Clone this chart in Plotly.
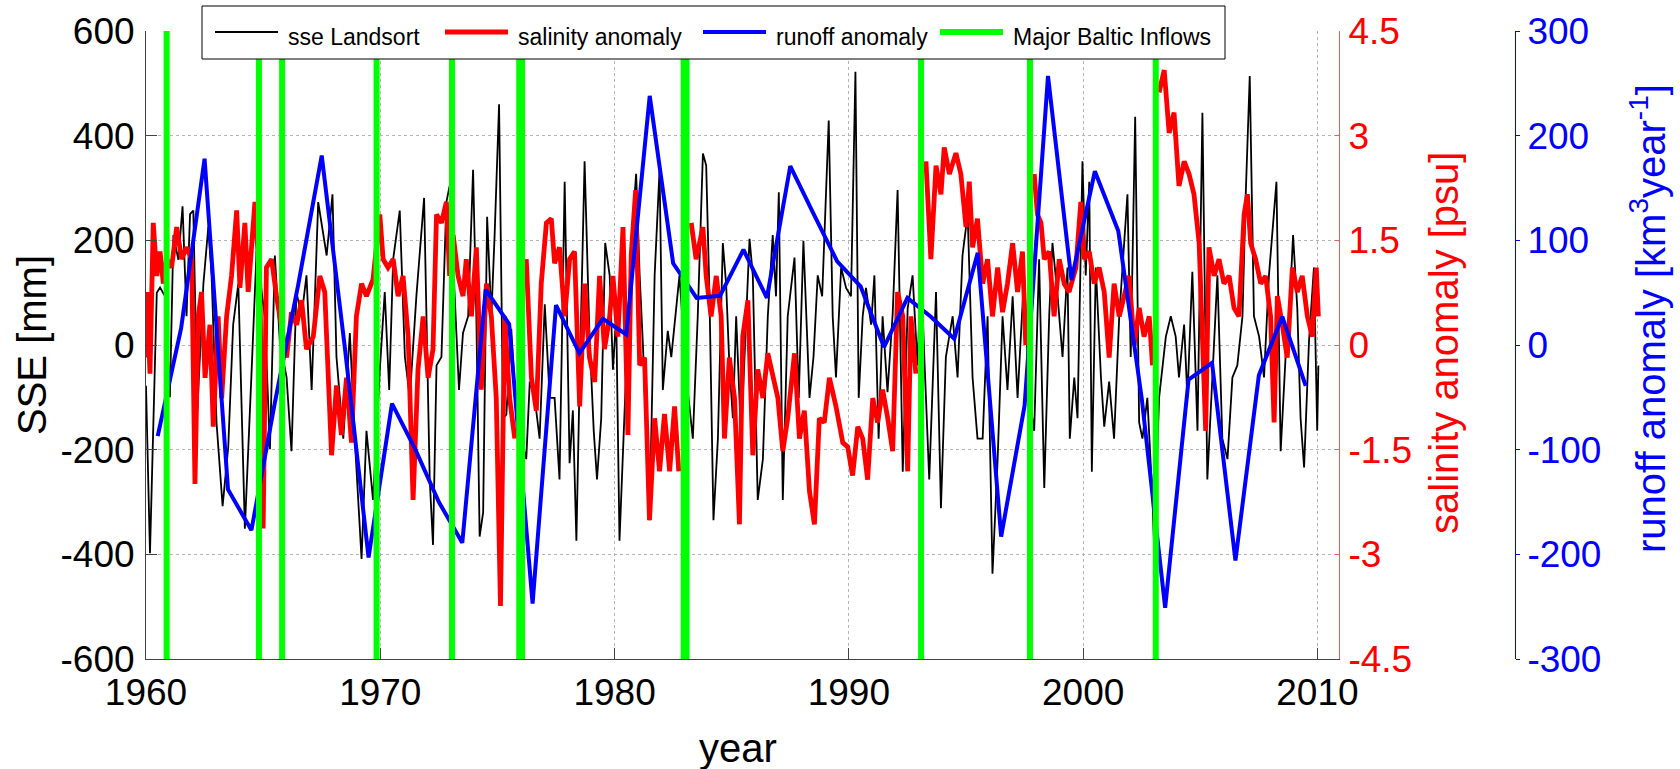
import plotly.graph_objects as go

# ---------------- data ----------------
# sea surface elevation at Landsort [mm]
sse_t_a = [1960.00, 1960.17, 1960.46, 1960.60, 1960.81, 1961.02, 1961.17, 1961.38, 1961.56, 1961.73,
           1961.88, 1962.02, 1962.19, 1962.45, 1962.66, 1962.80, 1963.01, 1963.27, 1963.51, 1963.72,
           1963.94, 1964.22, 1964.51, 1964.72, 1965.07, 1965.29, 1965.50, 1965.71, 1966.00, 1966.21,
           1966.42, 1966.64, 1966.85, 1967.07, 1967.35, 1967.71, 1967.96, 1968.13, 1968.42, 1968.70,
           1968.96, 1969.20, 1969.41, 1969.69, 1969.98, 1970.19, 1970.38, 1970.55, 1970.83, 1971.05,
           1971.26, 1971.54, 1971.87, 1972.11, 1972.25, 1972.40, 1972.61, 1972.82, 1972.96]
sse_v_a = [-78, -398, 100, 110, 93, -100, 210, 163, 265, 55,
           250, 257, -125, 117, 226, 133, -148, -308, -195, 39,
           117, -351, -47, 179, 54, -199, 171, 8, -62, -203,
           101, 55, 133, -86, 273, 171, 288, -23, -179, 23,
           -218, -409, -164, -296, -47, 101, -86, 164, 257, -23,
           -101, 93, 281, -257, -382, -39, -23, 273, 304]
sse_t_b = [1973.36, 1973.53, 1973.75, 1973.96, 1974.10, 1974.24, 1974.39, 1974.56, 1974.74, 1974.88,
           1975.07, 1975.24, 1975.38, 1975.59, 1975.81, 1976.23, 1976.38, 1976.59, 1976.80, 1977.02,
           1977.23, 1977.44, 1977.65, 1977.87, 1978.08, 1978.22, 1978.37, 1978.51, 1978.72, 1978.93,
           1979.11, 1979.25, 1979.43, 1979.60, 1979.79, 1979.93, 1980.07, 1980.21, 1980.38, 1980.50,
           1980.71, 1980.92, 1981.07, 1981.21, 1981.49, 1981.71, 1981.92, 1982.06, 1982.27, 1982.42,
           1982.77, 1983.06, 1983.34, 1983.55, 1983.77, 1983.91, 1984.05, 1984.22, 1984.41, 1984.62,
           1984.76, 1984.90, 1985.05, 1985.19, 1985.40, 1985.62, 1985.76]
sse_v_b = [-86, 23, 55, 335, 55, -366, -320, 245, 55, 210,
           460, -140, -133, 31, -140, -218, -70, -101, -179, 78,
           -101, -101, -257, 312, -226, -125, -374, -62, 351, 16,
           -164, -257, -140, 195, 133, -47, 55, -374, -187, -62,
           195, 327, 133, 0, -335, 133, 335, -86, 27, -23,
           133, -60, -179, 55, 366, 343, 93, -335, -179, 195,
           117, -39, -140, 55, -179, 55, 203]
sse_t_c = [1985.90, 1986.11, 1986.33, 1986.54, 1986.75, 1986.89, 1987.01, 1987.18, 1987.39, 1987.68,
           1987.86, 1988.06, 1988.32, 1988.49, 1988.67, 1988.86, 1989.14, 1989.31, 1989.45, 1989.67,
           1989.88, 1990.09, 1990.28, 1990.42, 1990.59, 1990.73, 1990.95, 1991.09, 1991.27, 1991.44,
           1991.65, 1991.87, 1992.08, 1992.30, 1992.51, 1992.72, 1992.93, 1993.08, 1993.22, 1993.43,
           1993.72, 1993.93, 1994.14, 1994.43, 1994.64, 1994.85, 1995.07, 1995.28, 1995.49, 1995.71,
           1995.92, 1996.13, 1996.35, 1996.56, 1996.77, 1996.99, 1997.20, 1997.48, 1997.70, 1997.91,
           1998.12]
sse_v_c = [133, -296, -218, 55, 210, 93, 292, -296, 55, 167,
           -101, 199, -101, -23, 133, 93, 429, 55, -62, 148,
           109, 93, 522, -101, 55, 109, 39, 133, -179, 55,
           -90, 60, 296, -242, 70, 133, -39, 148, -23, -257,
           101, -312, -23, 55, -62, 171, 250, -62, -179, -179,
           55, -437, -218, 55, -86, 93, -101, 133, -101, -164,
           164]
sse_t_d = [1998.34, 1998.55, 1998.69, 1998.91, 1999.12, 1999.33, 1999.43, 1999.62, 1999.76, 1999.97,
           2000.11, 2000.26, 2000.37, 2000.54, 2000.76, 2000.90, 2001.11, 2001.32, 2001.54, 2001.89,
           2002.03, 2002.22, 2002.39, 2002.53, 2002.74, 2002.96, 2003.03, 2003.24, 2003.53, 2003.74,
           2003.95, 2004.09, 2004.31, 2004.45, 2004.66, 2004.88, 2005.09, 2005.30, 2005.52, 2005.73,
           2005.94, 2006.16, 2006.37, 2006.58, 2006.80, 2006.94, 2007.11, 2007.29, 2007.51, 2007.72,
           2007.93, 2008.25, 2008.43, 2008.64, 2008.79, 2008.96, 2009.14, 2009.28, 2009.43, 2009.64,
           2009.85, 2009.99, 2010.04]
sse_v_d = [-273, 55, 195, 93, -23, 148, -179, -62, -140, 351,
           133, 312, -242, 148, -62, -156, -70, -179, 55, 288,
           -23, 436, -148, -179, -101, -296, -390, -101, 16, 55,
           16, -62, 39, -101, 140, -164, 444, -257, -62, 133,
           -179, -218, -62, -39, 55, 288, 514, 55, 16, -62,
           133, 312, -203, -23, 55, 210, 70, -140, -234, 8,
           148, -164, -39]

# salinity anomaly [psu]  (None = gap in the record)
sal_t_a = [1960.00, 1960.04, 1960.17, 1960.31, 1960.46, 1960.60, 1960.74, 1960.88, 1961.09, 1961.31,
           1961.52, 1961.73, 1961.95, 1962.09, 1962.23, 1962.37, 1962.52, 1962.73, 1962.87, 1963.08,
           1963.23, 1963.44, 1963.65, 1963.87, 1964.01, 1964.22, 1964.36, 1964.65, 1964.86, 1965.00,
           1965.14, 1965.36, 1965.57, 1965.79, 1966.00, 1966.21, 1966.43, 1966.64, 1966.85, 1967.14,
           1967.42, 1967.63, 1967.78, 1967.92, 1968.13, 1968.34, 1968.56, 1968.77, 1968.98, 1969.20,
           1969.41, 1969.69, 1969.98, 1970.12, 1970.33, 1970.55, 1970.76, 1970.97, 1971.19, 1971.40,
           1971.61, 1971.83, 1972.04, 1972.25, 1972.40, 1972.61, 1972.82, 1972.96]
sal_v_a = [-0.18, 0.76, -0.41, 1.75, 0.99, 1.34, 0.88, 1.23, 1.11, 1.69,
           1.23, 1.40, 1.23, -1.99, 0.41, 0.76, -0.47, 0.29, -1.17, 0.41,
           -0.76, 0.41, 0.99, 1.93, 0.82, 1.75, 0.76, 2.05, 0.88, -2.63,
           1.11, 1.23, 0.70, 0.23, -0.18, 0.47, 0.29, 0.64, -0.06, 0.12,
           0.99, 0.76, -0.47, -1.58, -0.58, -1.29, -0.47, -1.40, 0.41, 0.88,
           0.70, 0.94, 1.87, 1.23, 1.11, 1.23, 0.70, 0.99, 0.12, -2.22,
           -0.35, 0.41, -0.47, -0.06, 1.87, 1.75, 2.05, 0.99]
sal_t_b = [1973.11, 1973.32, 1973.53, 1973.67, 1973.89, 1974.10, 1974.31, 1974.53, 1974.74, 1974.95,
           1975.13, 1975.31, 1975.52, 1975.74, None, 1976.23, 1976.45, 1976.66, 1976.87, 1977.09,
           1977.30, 1977.44, 1977.65, 1977.87, 1978.08, 1978.29, 1978.51, 1978.72, 1978.93, 1979.15,
           1979.36, 1979.57, 1979.79, 1979.93, 1980.14, 1980.36, 1980.57, 1980.71, 1980.90, 1981.07,
           1981.28, 1981.49, 1981.71, 1981.92, 1982.13, 1982.35, 1982.56, 1982.74, None, 1983.27,
           1983.48, 1983.77, 1983.91, 1984.12, 1984.34, 1984.55, 1984.69, 1984.90, 1985.12, 1985.33]
sal_v_b = [1.58, 0.99, 0.70, 1.23, 0.41, 1.40, -0.64, 0.88, 0.41, -0.76,
           -3.74, 0.41, -0.76, -1.34, None, 1.23, -0.47, -0.94, 0.88, 1.75,
           1.81, 1.17, 1.40, 0.41, 1.23, 1.34, -0.88, 0.88, -0.18, -0.53,
           0.99, -0.06, 0.41, 0.99, 0.12, 1.69, -1.29, 1.29, 2.22, -0.29,
           -0.18, -2.51, -1.05, -1.81, -0.99, -1.81, -0.88, -1.81, None, 1.75,
           1.23, 1.69, 0.99, 0.41, 0.99, 0.41, -1.34, -0.18, -0.76, -2.57]
sal_t_c = [1985.47, 1985.69, 1985.90, 1986.11, 1986.33, 1986.54, 1986.75, 1986.97, 1987.18, 1987.39,
           1987.68, 1987.89, 1988.10, 1988.32, 1988.53, 1988.74, 1988.95, 1989.17, 1989.45, 1989.74,
           1989.95, 1990.16, 1990.38, 1990.59, 1990.80, 1991.02, 1991.23, 1991.44, 1991.66, 1991.87,
           1992.08, 1992.30, 1992.51, 1992.65, 1992.86, None, 1993.29, 1993.50, 1993.72, 1993.93,
           1994.07, 1994.29, 1994.57, 1994.78, 1995.00, 1995.14, 1995.28, 1995.49, 1995.71, 1995.92,
           1996.13, 1996.35, 1996.56, 1996.77, 1996.99, 1997.20, 1997.41, 1997.55, None, 1997.91,
           1998.05]
sal_v_c = [0.12, 0.64, -1.58, -0.35, -0.76, -0.12, -0.41, -0.76, -1.52, -1.05,
           -0.12, -1.34, -0.94, -2.10, -2.57, -1.05, -1.11, -0.47, -0.88, -1.40,
           -1.46, -1.87, -1.17, -1.34, -1.93, -0.76, -1.11, -0.64, -1.05, -1.52,
           0.76, 0.41, -1.81, 0.41, -0.41, None, 2.63, 1.23, 2.57, 2.16,
           2.83, 2.45, 2.75, 2.45, 1.69, 2.34, 1.40, 1.81, 0.88, 1.23,
           0.41, 1.11, 0.47, 0.88, 1.46, 0.76, 1.34, 0.00, None, 2.45,
           1.87]
sal_t_d = [1998.20, 1998.34, 1998.55, 1998.76, 1998.98, 1999.19, 1999.40, 1999.69, 1999.90, 2000.04,
           2000.26, 2000.47, 2000.68, 2000.90, 2001.11, 2001.32, 2001.54, 2001.75, 2001.96, 2002.18,
           2002.39, 2002.60, 2002.82, 2002.96, None, 2003.24, 2003.46, 2003.67, 2003.88, 2004.09,
           2004.31, 2004.52, 2004.73, 2004.95, 2005.09, 2005.23, 2005.37, 2005.59, 2005.80, 2006.01,
           2006.23, 2006.44, 2006.65, 2006.87, 2007.01, 2007.15, 2007.36, 2007.58, 2007.79, 2008.00,
           2008.15, 2008.29, 2008.50, 2008.71, 2008.93, 2009.14, 2009.35, 2009.57, 2009.78, 2009.95,
           2010.04]
sal_v_d = [1.75, 1.23, 1.34, 0.41, 1.23, 0.88, 0.76, 1.11, 2.05, 1.23,
           1.34, 0.88, 1.11, 0.76, -0.18, 0.88, 0.41, 0.70, 0.99, 0.00,
           0.53, 0.12, 0.41, -0.29, None, 3.62, 3.94, 3.04, 3.33, 2.28,
           2.63, 2.45, 2.16, 1.46, -0.06, -1.23, 1.40, 0.99, 1.23, 0.88,
           0.99, 0.53, 0.41, 1.87, 2.16, 1.46, 1.23, 0.88, 0.99, 0.41,
           -1.11, 0.70, 0.29, -0.18, 1.11, 0.76, 0.99, 0.41, 0.12, 1.11,
           0.41]

# annual runoff anomaly [km3/year], plotted at mid-year
runoff_year = list(range(1960, 2010))
runoff_anom = [-87, 16, 178, -138, -177, -55, 58, 181, -5, -203,
               -56, -100, -150, -189, 53, 20, -247, 38, -8, 25,
               10, 238, 78, 45, 47, 91, 45, 171, 125, 80,
               56, -2, 45, 27, 6, 88, -183, -58, 257, 62,
               166, 109, -51, -251, -33, -17, -206, -29, 27, -39]

# Major Baltic Inflow events (decimal year)
mbi_year = [1960.88, 1964.82, 1965.81, 1969.84, 1973.06, 1975.93, 1976.05,
            1982.95, 1983.07, 1993.08, 1997.73, 2003.10]

x_ticks = [1960, 1970, 1980, 1990, 2000, 2010]
sse_ticks = [-600, -400, -200, 0, 200, 400, 600]
sse_ticktext = ["-600", "-400", "-200", "0", "200", "400", "600"]
sal_ticks = [-4.5, -3, -1.5, 0, 1.5, 3, 4.5]
sal_ticktext = ["-4.5", "-3", "-1.5", "0", "1.5", "3", "4.5"]
runoff_ticks = [-300, -200, -100, 0, 100, 200, 300]
runoff_ticktext = ["-300", "-200", "-100", "0", "100", "200", "300"]

series_names = ["sse Landsort", "salinity anomaly", "runoff anomaly", "Major Baltic Inflows"]

# ---------------- layout constants ----------------
FONT = "Liberation Sans, Arial, Helvetica, sans-serif"
W, H = 1680, 769
ML, MR, MT, MB = 146, 30, 31, 110
PW = W - ML - MR
PH = H - MT - MB
PLOT_RIGHT = 1339
BLUE_AXIS_X = 1515

def px(xpix):
    return (xpix - ML) / PW

def py(ypix):
    return (H - MB - ypix) / PH

colors = ["#000000", "#ff0000", "#0000ff", "#00ff00"]
widths = [1.8, 4.8, 4, 6]

sse_t = sse_t_a + sse_t_b + sse_t_c + sse_t_d
sse_v = sse_v_a + sse_v_b + sse_v_c + sse_v_d
sal_t = sal_t_a + sal_t_b + sal_t_c + sal_t_d
sal_v = sal_v_a + sal_v_b + sal_v_c + sal_v_d
n1 = min(len(sse_t), len(sse_v))
n2 = min(len(sal_t), len(sal_v))

fig = go.Figure()
fig.add_trace(go.Scatter(x=sse_t[:n1], y=sse_v[:n1], mode="lines", name=series_names[0],
                         line=dict(color=colors[0], width=widths[0]), yaxis="y"))
fig.add_trace(go.Scatter(x=sal_t[:n2], y=sal_v[:n2], mode="lines", name=series_names[1],
                         line=dict(color=colors[1], width=widths[1]), yaxis="y2",
                         connectgaps=False))
fig.add_trace(go.Scatter(x=[y + 0.5 for y in runoff_year], y=runoff_anom, mode="lines",
                         name=series_names[2], line=dict(color=colors[2], width=widths[2]),
                         yaxis="y3"))
gx, gy = [], []
for t in mbi_year:
    gx += [t, t, None]
    gy += [0, 1, None]
fig.add_trace(go.Scatter(x=gx, y=gy, mode="lines", name=series_names[3],
                         line=dict(color=colors[3], width=widths[3]), yaxis="y4"))

tick_font = dict(family=FONT, size=37, color="black")
AX = "#444444"
GRID = "#b4b4b4"

fig.update_layout(
    width=W, height=H,
    margin=dict(l=ML, r=MR, t=MT, b=MB, autoexpand=False),
    paper_bgcolor="white", plot_bgcolor="white",
    showlegend=False,
    xaxis=dict(domain=[0, px(PLOT_RIGHT)], range=[1960, 2010.92], tickvals=x_ticks,
               ticks="inside", ticklen=11, tickcolor=AX, tickwidth=1,
               showline=True, linecolor=AX, linewidth=1,
               showgrid=True, gridcolor=GRID, griddash="dot", gridwidth=1,
               zeroline=False, tickfont=tick_font, ticklabelstandoff=1),
    yaxis=dict(range=[-600, 600], tickvals=sse_ticks, ticktext=sse_ticktext,
               ticks="inside", ticklen=11, tickcolor=AX, tickwidth=1,
               showline=True, linecolor=AX, linewidth=1,
               showgrid=True, gridcolor=GRID, griddash="dot", gridwidth=1,
               zeroline=False, tickfont=tick_font, ticklabelstandoff=3),
    yaxis2=dict(overlaying="y", side="right", anchor="x", range=[-4.5, 4.5],
                tickvals=sal_ticks, ticktext=sal_ticktext,
                ticks="inside", ticklen=4, tickcolor="#e06060",
                showline=True, linecolor="#e06060", linewidth=1,
                showgrid=False, zeroline=False,
                tickfont=dict(family=FONT, size=37, color="#ff0000"), ticklabelstandoff=1),
    yaxis3=dict(overlaying="y", side="right", anchor="free", position=px(BLUE_AXIS_X),
                range=[-300, 300], tickvals=runoff_ticks, ticktext=runoff_ticktext,
                ticks="outside", ticklen=4, tickcolor="#0000ff",
                showline=True, linecolor="#0000ff", linewidth=1,
                showgrid=False, zeroline=False,
                tickfont=dict(family=FONT, size=37, color="#0000ff"), ticklabelstandoff=0),
    yaxis4=dict(overlaying="y", range=[0, 1], visible=False),
)

title_font = dict(family=FONT, size=40)
annotations = [
    dict(text="SSE [mm]", x=px(32), y=py(345), textangle=-90,
         font=dict(title_font, color="black")),
    dict(text="salinity anomaly [psu]", x=px(1444), y=py(343), textangle=-90,
         font=dict(title_font, color="#ff0000")),
    dict(text="runoff anomaly [km<sup>3</sup>year<sup>-1</sup>]", x=px(1648), y=py(319),
         textangle=-90, font=dict(title_font, color="#0000ff")),
    dict(text="year", x=px(738), y=py(748), font=dict(title_font, color="black")),
]
for a in annotations:
    a.update(xref="paper", yref="paper", showarrow=False, xanchor="center", yanchor="middle")

# hand-drawn legend box (MATLAB style)
LEG_X0, LEG_X1, LEG_Y0, LEG_Y1 = 202, 1225, 6, 59
LEG_SAMPLE_X = [215, 445, 703, 940]
LEG_SAMPLE_LEN = 63
LEG_LINE_Y = 32
LEG_TEXT_Y = 37
shapes = [dict(type="rect", xref="paper", yref="paper",
               x0=px(LEG_X0), x1=px(LEG_X1), y0=py(LEG_Y1), y1=py(LEG_Y0),
               line=dict(color="black", width=1), fillcolor="white", layer="above")]
for name, c, w, sx in zip(series_names, colors, widths, LEG_SAMPLE_X):
    shapes.append(dict(type="line", xref="paper", yref="paper",
                       x0=px(sx), x1=px(sx + LEG_SAMPLE_LEN), y0=py(LEG_LINE_Y), y1=py(LEG_LINE_Y),
                       line=dict(color=c, width=w), layer="above"))
    annotations.append(dict(text=name, x=px(sx + LEG_SAMPLE_LEN + 8), y=py(LEG_TEXT_Y),
                            xref="paper", yref="paper", showarrow=False,
                            xanchor="left", yanchor="middle",
                            font=dict(family=FONT, size=23, color="black")))

fig.update_layout(annotations=annotations, shapes=shapes)

fig.write_html("out.html", config={"displayModeBar": False},
               post_script="document.body.style.margin='0';document.body.style.overflow='hidden';")
